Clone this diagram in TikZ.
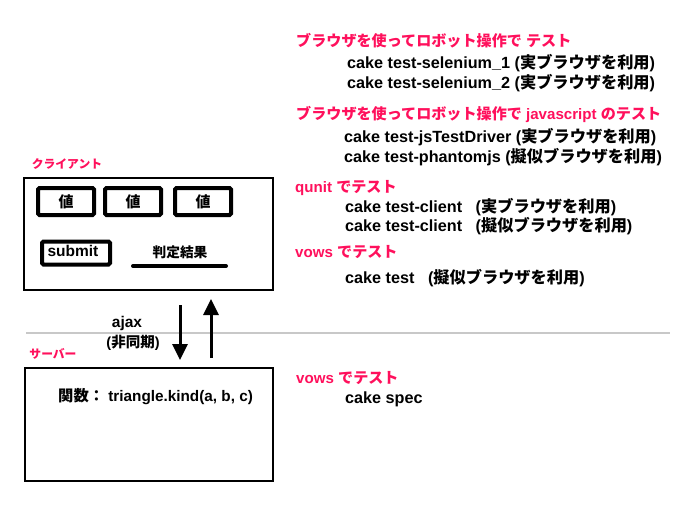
\documentclass[tikz,border=0pt]{standalone}
\usepackage{fontspec}
\setmainfont{Liberation Sans}
\newfontfamily\jpfont{Noto Sans CJK JP}
\newcommand{\jtx}[1]{{\jpfont #1}}
\usetikzlibrary{arrows.meta}
\definecolor{hdred}{RGB}{255,16,92}
\definecolor{sepgray}{RGB}{200,200,200}
\tikzset{
  hdr/.style={anchor=west, inner sep=0pt, text=hdred, font=\fontsize{15.1}{17}\selectfont\bfseries},
  item/.style={anchor=west, inner sep=0pt, text=black, font=\fontsize{16.2}{18}\selectfont\bfseries},
  lbl/.style={anchor=center, inner sep=0pt, text=hdred, font=\fontsize{11.8}{13}\selectfont\bfseries},
  frame/.style={draw=black, line width=2pt, fill=white},
  valbox/.style={draw=black, line width=4pt, rounded corners=1.5pt},
  txt/.style={inner sep=0pt, font=\fontsize{15}{17}\selectfont\bfseries},
  flow/.style={line width=3pt, -{Triangle[length=16pt,width=15pt]}}
}
\begin{document}
\begin{tikzpicture}[x=1pt,y=-1pt]
\useasboundingbox[fill=white] (0,0) rectangle (698,508);
% separator
\draw[sepgray, line width=2.5pt] (26,333) -- (670,333);
% client
\node[lbl] (clientlbl) at (67,164) {\jtx{クライアント}};
\draw[frame] (24,178) rectangle (273,290);
\node[valbox, minimum width=56pt, minimum height=27pt] (v1) at (66,201.5) {};
\node[valbox, minimum width=56pt, minimum height=27pt] (v2) at (133,201.5) {};
\node[valbox, minimum width=56pt, minimum height=27pt] (v3) at (203,201.5) {};
\node[txt] at (v1) {\jtx{値}};
\node[txt] at (v2) {\jtx{値}};
\node[txt] at (v3) {\jtx{値}};
\node[draw=black, line width=4pt, rounded corners=1.5pt, minimum width=68pt, minimum height=23pt] (sub) at (76,253) {};
\node[txt, font=\fontsize{15.5}{17}\selectfont\bfseries] at (73,251) {submit};
\node[txt, font=\fontsize{13.7}{15}\selectfont\bfseries] (judge) at (180,252) {\jtx{判定結果}};
\draw[line width=4pt, line cap=round] (133,266) -- (226,266);
% arrows
\coordinate (dtop) at (180,305);
\coordinate (dbot) at (180,360);
\coordinate (ubot) at (211,358);
\coordinate (utop) at (211,299);
\draw[flow] (dtop) -- (dbot);
\draw[flow] (ubot) -- (utop);
\node[txt, font=\fontsize{15.5}{17}\selectfont\bfseries] (ajax) at (127,323) {ajax};
\node[txt, font=\fontsize{14.5}{16}\selectfont\bfseries] (async) at (133,343) {(\jtx{非同期})};
% server
\node[lbl] (serverlbl) at (53,354) {\jtx{サーバー}};
\draw[frame] (25,368) rectangle (273,481);
\node[txt, anchor=west, font=\fontsize{15.3}{17}\selectfont\bfseries] (func) at (58,397) {\jtx{関数：}\ triangle.kind(a, b, c)};
% right side texts
\node[hdr] (h1) at (296,41) {\jtx{ブラウザを使ってロボット操作で} \jtx{テスト}};
\node[item] (i1) at (347,63) {cake test-selenium\_1 (\jtx{実ブラウザを利用})};
\node[item] (i2) at (347,83) {cake test-selenium\_2 (\jtx{実ブラウザを利用})};
\node[hdr] (h2) at (296,114) {\jtx{ブラウザを使ってロボット操作で} javascript \jtx{のテスト}};
\node[item] (i3) at (344,137) {cake test-jsTestDriver (\jtx{実ブラウザを利用})};
\node[item] (i4) at (344,157) {cake test-phantomjs (\jtx{擬似ブラウザを利用})};
\node[hdr] (h3) at (295,188) {qunit \jtx{でテスト}};
\node[item] (i5) at (345,207) {cake test-client\ \ \ (\jtx{実ブラウザを利用})};
\node[item] (i6) at (345,226) {cake test-client\ \ \ (\jtx{擬似ブラウザを利用})};
\node[hdr] (h4) at (295,252) {vows \jtx{でテスト}};
\node[item] (i7) at (345,278) {cake test\ \ \ (\jtx{擬似ブラウザを利用})};
\node[hdr] (h5) at (296,378) {vows \jtx{でテスト}};
\node[item] (i8) at (345,399) {cake spec};
\end{tikzpicture}
\end{document}
